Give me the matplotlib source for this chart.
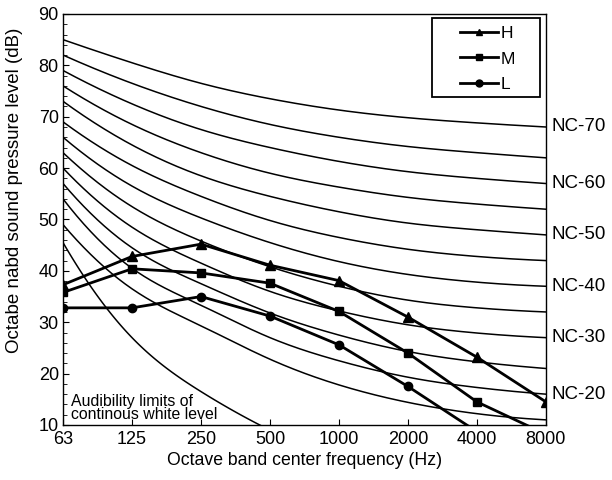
import numpy as np
import matplotlib
matplotlib.use('Agg')
import matplotlib.pyplot as plt
from matplotlib.patches import Rectangle

plt.rcParams['font.family'] = ['Liberation Sans', 'DejaVu Sans']

# octave band centre frequencies
freqs = ['63', '125', '250', '500', '1000', '2000', '4000', '8000']

# NC curves (dB) at each octave band
nc_names = [70, 65, 60, 55, 50, 45, 40, 35, 30, 25, 20, 15]
nc_curves = [
    [85, 80.5, 76.5, 73.5, 71.3, 69.8, 68.8, 68],
    [82, 76.5, 72, 68.5, 66, 64.2, 63, 62],
    [79, 72.5, 67.5, 64, 61.3, 59.3, 58, 57],
    [76, 68.5, 63, 59, 56.3, 54.3, 53, 52],
    [73, 64.5, 58.5, 54.5, 51.5, 49.3, 48, 47],
    [69, 60.5, 54.5, 49.8, 46.5, 44.2, 42.8, 42],
    [66, 56.5, 50.3, 45.5, 41.8, 39.3, 37.8, 37],
    [63, 52.5, 45.8, 40.8, 37, 34.3, 32.8, 32],
    [60, 48.5, 41.5, 36, 32.2, 29.5, 27.9, 27],
    [57, 44.5, 37.5, 31.8, 27.5, 24.3, 22.3, 21],
    [54, 40.5, 33.3, 27, 22.5, 19.3, 17.3, 16],
    [49, 36.5, 29.3, 22.8, 17.8, 14.4, 12.2, 11],
]
labelled = [70, 60, 50, 40, 30, 20]

# audibility limit of continuous white noise
audib = [45.5, 27, 16.5, 9.0]

# measured spectra
H = [37.3, 42.8, 45.2, 41.1, 38.1, 31.0, 23.2, 14.5]
M = [35.8, 40.4, 39.6, 37.6, 32.1, 24.0, 14.5, 8.2]
L = [32.8, 32.8, 35.0, 31.2, 25.6, 17.5, 8.7]


def smooth(y, n=40):
    # cubic spline (parabolic run-out ends) through the band values, for drawing
    y = np.asarray(y, float)
    k = len(y)
    A = np.zeros((k, k))
    b = np.zeros(k)
    A[0, 0], A[0, 1] = 1, -1
    A[-1, -1], A[-1, -2] = 1, -1
    for i in range(1, k - 1):
        A[i, i - 1], A[i, i], A[i, i + 1] = 1, 4, 1
        b[i] = 6 * (y[i + 1] - 2 * y[i] + y[i - 1])
    m = np.linalg.solve(A, b)
    xs, ys = [], []
    for i in range(k - 1):
        t = np.linspace(0, 1, n, endpoint=(i == k - 2))
        yy = ((1 - t) * y[i] + t * y[i + 1]
              + ((1 - t) ** 3 - (1 - t)) * m[i] / 6 + (t ** 3 - t) * m[i + 1] / 6)
        xs.append(i + t)
        ys.append(yy)
    return np.concatenate(xs), np.concatenate(ys)


fig = plt.figure(figsize=(6.12, 4.8), dpi=100)
ax = fig.add_axes([0.103, 0.1146, 0.789, 0.8563])

for name, vals in zip(nc_names, nc_curves):
    xs, ys = smooth(vals)
    ax.plot(xs, ys, color='black', lw=1.1)
    if name in labelled:
        ax.annotate('NC-%d' % name, xy=(7, vals[-1]), xytext=(4, 0),
                    textcoords='offset points', va='center', ha='left',
                    fontsize=13.5, annotation_clip=False)

xs, ys = smooth(audib)
ax.plot(xs, ys, color='black', lw=1.1)

ax.plot(range(len(H)), H, color='black', lw=2.0, marker='^', ms=7, label='H')
ax.plot(range(len(M)), M, color='black', lw=2.0, marker='s', ms=6, label='M')
ax.plot(range(len(L)), L, color='black', lw=2.0, marker='o', ms=6, label='L')

ax.text(0.11, 10.6, 'Audibility limits of\ncontinous white level', fontsize=11.4,
        ha='left', va='bottom', linespacing=0.85)

ax.set_xlim(0, 7)
ax.set_ylim(10, 90)
ax.set_xticks(range(len(freqs)))
ax.set_xticklabels(freqs)
ax.set_yticks(range(10, 91, 10))
ax.set_yticks(range(10, 91, 2), minor=True)
ax.tick_params(axis='both', which='both', direction='in', labelsize=13)
ax.tick_params(axis='y', which='major', length=4, pad=3)
ax.tick_params(axis='y', which='minor', length=3)
ax.tick_params(axis='x', length=4, pad=4)
ax.set_xlabel('Octave band center frequency (Hz)', fontsize=12.7, labelpad=3)
ax.set_ylabel('Octabe nabd sound pressure level (dB)', fontsize=13.5)
ax.yaxis.set_label_coords(-0.082, 0.572)
for s in ax.spines.values():
    s.set_linewidth(1.0)

# legend box
ax.add_patch(Rectangle((0.764, 0.798), 0.2236, 0.192, transform=ax.transAxes,
                       fill=True, facecolor='white', edgecolor='black', lw=1.3,
                       zorder=4))
leg = ax.legend(loc='upper left', bbox_to_anchor=(0.822, 0.972), frameon=False,
                handlelength=2.2, fontsize=12.5, borderpad=0, borderaxespad=0,
                labelspacing=0.62, handletextpad=0.15)
leg.set_zorder(5)
for h in leg.legend_handles:
    h.set_markersize(5)

fig.savefig('out.png', dpi=100)
